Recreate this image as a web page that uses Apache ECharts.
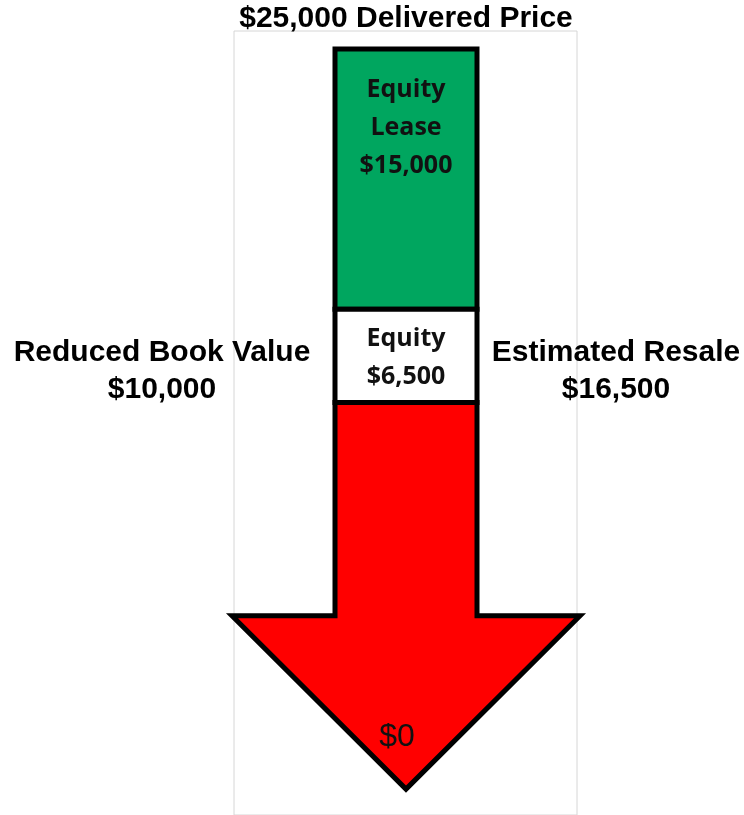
<!DOCTYPE html>
<html>
<head>
<meta charset="utf-8">
<script src="https://cdn.jsdelivr.net/npm/echarts@6/dist/echarts.min.js"></script>
<style>
  html, body { margin: 0; padding: 0; background: #fff; }
  #chart { width: 744px; height: 815px; }
</style>
</head>
<body>
<div id="chart"></div>
<script>
// schematic, not to scale: y is in diagram units (0 = bottom of plot, 100 = top)
const priceLabel = '$25,000 Delivered Price'
const leftLabel = ['Reduced Book Value', '$10,000']
const rightLabel = ['Estimated Resale', '$16,500']
const blockNames = [['Equity', 'Lease', '$15,000'], ['Equity', '$6,500']]
const blockLevels = [97.7, 64.5, 52.6]     // top of green, green/white, white/red
const arrowLevels = [52.6, 25.4, 3.3]      // shaft top, head shoulder, tip
const shaftHalf = 71
const headHalf = 174
const zeroLabel = '$0'

const chart = echarts.init(document.getElementById('chart'))

function arrowItem(params, api) {
  const [top, shoulder, tip] = arrowLevels
  const pts = [
    [-shaftHalf, top], [-shaftHalf, shoulder], [-headHalf, shoulder],
    [0, tip], [headHalf, shoulder], [shaftHalf, shoulder], [shaftHalf, top]
  ].map((p) => api.coord(p))
  return {
    type: 'polygon',
    shape: { points: pts },
    style: { fill: '#ff0000', stroke: '#000', lineWidth: 5, lineJoin: 'miter', miterLimit: 10 },
    textContent: {
      style: { text: zeroLabel, fontFamily: 'Liberation Sans, Arial', fontSize: 32, fill: '#111' }
    },
    textConfig: { position: 'insideBottom', distance: 38, offset: [-9, 0] }
  }
}

function blockItem(params, api) {
  const i = params.dataIndex
  const p1 = api.coord([-shaftHalf, blockLevels[i]])
  const p2 = api.coord([shaftHalf, blockLevels[i + 1]])
  return {
    type: 'rect',
    shape: { x: p1[0], y: p1[1], width: p2[0] - p1[0], height: p2[1] - p1[1] },
    style: { fill: i === 0 ? '#00a65f' : '#fff', stroke: '#000', lineWidth: 5 },
    textContent: {
      style: {
        text: blockNames[i].join('\n'),
        fontFamily: 'Open Sans',
        fontWeight: 'bold',
        fontSize: 25,
        lineHeight: 38,
        align: 'center',
        fill: '#111'
      }
    },
    textConfig: i === 0 ? { position: 'insideTop', distance: 24 } : { position: 'inside', offset: [0, 2] }
  }
}

const sideFont = { fontFamily: 'Liberation Sans, Arial', fontWeight: 'bold', fontSize: 30, fill: '#000' }

chart.setOption({
  animation: false,
  grid: { left: 234, right: 167, top: 31, bottom: -1, show: true, borderColor: '#d6d6d6', borderWidth: 1 },
  xAxis: { type: 'value', min: -172, max: 171, show: false },
  yAxis: { type: 'value', min: 0, max: 100, show: false },
  graphic: [
    { type: 'text', x: 406, y: 19, style: { ...sideFont, text: priceLabel, align: 'center', verticalAlign: 'middle' } },
    { type: 'text', x: 162, y: 371, style: { ...sideFont, text: leftLabel.join('\n'), lineHeight: 37, align: 'center', verticalAlign: 'middle' } },
    { type: 'text', x: 616, y: 371, style: { ...sideFont, text: rightLabel.join('\n'), lineHeight: 37, align: 'center', verticalAlign: 'middle' } }
  ],
  series: [
    { type: 'custom', name: 'arrow', data: [[0]], renderItem: arrowItem, silent: true },
    { type: 'custom', name: 'blocks', data: blockNames.map((b, i) => [i]), renderItem: blockItem, silent: true }
  ]
})
</script>
</body>
</html>
